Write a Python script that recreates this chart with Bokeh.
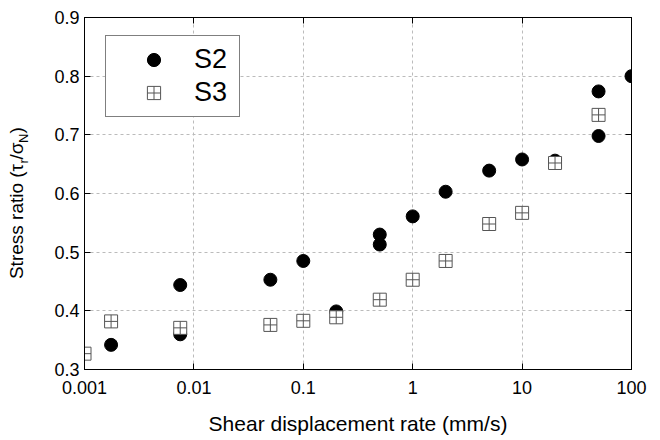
import math
from bokeh.plotting import figure
from bokeh.layouts import row
from bokeh.models import (Range1d, FixedTicker, LogAxis, LinearAxis,
                          Legend, LegendItem)
from bokeh.core.properties import value
from bokeh.embed import file_html
from bokeh.resources import INLINE

# ---- data ----
s2_rate = [0.00175, 0.0075, 0.0075, 0.05, 0.1, 0.2, 0.5, 0.5, 1, 2, 5, 10, 20, 50, 50, 100]
s2_ratio = [0.342, 0.444, 0.360, 0.453, 0.485, 0.399, 0.530, 0.513, 0.561, 0.603,
            0.639, 0.658, 0.656, 0.774, 0.698, 0.800]
s3_rate = [0.001, 0.00175, 0.0075, 0.05, 0.1, 0.2, 0.5, 1, 2, 5, 10, 20, 50]
s3_ratio = [0.327, 0.382, 0.371, 0.376, 0.383, 0.389, 0.419, 0.453, 0.485, 0.548,
            0.567, 0.652, 0.734]

x_ticks = [0.001, 0.01, 0.1, 1, 10, 100]
x_tick_labels = ["0.001", "0.01", "0.1", "1", "10", "100"]
y_ticks = [0.3, 0.4, 0.5, 0.6, 0.7, 0.8, 0.9]
y_tick_labels = ["0.3", "0.4", "0.5", "0.6", "0.7", "0.8", "0.9"]

x_label = "Shear displacement rate (mm/s)"
y_label_parts = ["Stress ratio (\u03c4", "r", "/\u03c3", "N", ")"]
series_names = ["S2", "S3"]

FONT = "Liberation Sans"
LAB_W = 30
H = 440

p = figure(width=660 - LAB_W, height=H, x_axis_type="log",
           x_range=Range1d(0.001, 100), y_range=Range1d(0.3, 0.9),
           output_backend="svg", toolbar_location=None,
           min_border_left=84 - LAB_W, min_border_right=29,
           min_border_top=17, min_border_bottom=71)
p.background_fill_color = "white"
p.border_fill_color = "white"
p.outline_line_color = "black"
p.outline_line_width = 1

# axes
for ax, ticks, labels in ((p.xaxis[0], x_ticks, x_tick_labels),
                          (p.yaxis[0], y_ticks, y_tick_labels)):
    ax.ticker = FixedTicker(ticks=ticks)
    ax.major_label_overrides = {t: l for t, l in zip(ticks, labels)}
    ax.major_tick_in = 6
    ax.major_tick_out = 0
    ax.minor_tick_line_color = None
    ax.axis_line_color = "black"
    ax.major_tick_line_color = "black"
    ax.major_label_text_font = FONT
    ax.major_label_text_font_size = "18px"
    ax.major_label_text_color = "black"

p.xaxis.major_label_standoff = 11
p.yaxis.major_label_standoff = 5
p.xaxis.axis_label = x_label
p.xaxis.axis_label_text_font = FONT
p.xaxis.axis_label_text_font_size = "21px"
p.xaxis.axis_label_text_font_style = "normal"
p.xaxis.axis_label_text_color = "black"
p.xaxis.axis_label_standoff = 15

top = LogAxis(ticker=FixedTicker(ticks=x_ticks), major_label_text_font_size="2px",
              major_label_text_alpha=0, major_label_overrides={t: "" for t in x_ticks},
              major_tick_in=6, major_tick_out=0, minor_tick_line_color=None,
              major_label_standoff=0, axis_line_color="black")
right = LinearAxis(ticker=FixedTicker(ticks=y_ticks), major_label_text_font_size="2px",
                   major_label_text_alpha=0, major_label_overrides={t: "" for t in y_ticks},
                   major_tick_in=6, major_tick_out=0, minor_tick_line_color=None,
                   major_label_standoff=0, axis_line_color="black")
p.add_layout(top, "above")
p.add_layout(right, "right")

# grid
for g in (p.xgrid[0], p.ygrid[0]):
    g.grid_line_color = "#bbbbbb"
    g.grid_line_dash = "3 3"
    g.grid_line_width = 1
p.xgrid.ticker = FixedTicker(ticks=x_ticks)
p.ygrid.ticker = FixedTicker(ticks=y_ticks)

# data
r2 = p.scatter(s2_rate, s2_ratio, marker="circle", size=13,
               fill_color="black", line_color="black")
r3 = p.scatter(s3_rate, s3_ratio, marker="square_cross", size=13,
               fill_color="white", line_color="#555555", line_width=1)

legend = Legend(items=[LegendItem(label=series_names[0], renderers=[r2]),
                       LegendItem(label=series_names[1], renderers=[r3])],
                location=(21, 252), margin=0, padding=7, spacing=0,
                glyph_width=81, glyph_height=33, label_height=33, label_width=38,
                label_standoff=0, label_text_font=FONT,
                label_text_font_size="27px", label_text_color="black",
                border_line_color="black", border_line_width=1.5,
                background_fill_color="white", background_fill_alpha=1)
p.add_layout(legend)

# ---- y axis label (with subscripts) drawn in a narrow side figure ----
lab = figure(frame_width=LAB_W, frame_height=H,
             x_range=Range1d(0, LAB_W), y_range=Range1d(0, H),
             output_backend="svg", toolbar_location=None, min_border=0,
             min_border_left=0, min_border_right=0, min_border_top=0, min_border_bottom=0,
             x_axis_location=None, y_axis_location=None, title=None)
lab.grid.visible = False
lab.outline_line_color = None
lab.background_fill_color = "white"
lab.border_fill_color = "white"

F_MAIN, F_SUB = 19, 13
widths = [(667+278+333+556+500+500+278+333+556+278+222+556+278+333+440) / 1000 * F_MAIN,
          333 / 1000 * F_SUB,
          (278+570) / 1000 * F_MAIN,
          722 / 1000 * F_SUB,
          333 / 1000 * F_MAIN]
subs = [False, True, False, True, False]
base_x = 23.0            # baseline of the main text, px from left
start_y = H - 262.0      # start of the label, px from bottom
pos = start_y
cx_main, cy_main, t_main, cx_sub, cy_sub, t_sub = [], [], [], [], [], []
for txt, w, sub in zip(y_label_parts, widths, subs):
    if sub:
        cx_sub.append(base_x + 5 - 0.35 * F_SUB); cy_sub.append(pos + w / 2); t_sub.append(txt)
    else:
        cx_main.append(base_x - 0.35 * F_MAIN); cy_main.append(pos + w / 2); t_main.append(txt)
    pos += w
lab.text(cx_main, cy_main, text=t_main, angle=math.pi / 2, text_align="center",
         text_baseline="middle", text_font=value(FONT),
         text_font_size=value(f"{F_MAIN}px"), text_color="black")
lab.text(cx_sub, cy_sub, text=t_sub, angle=math.pi / 2, text_align="center",
         text_baseline="middle", text_font=value(FONT),
         text_font_size=value(f"{F_SUB}px"), text_color="black")

layout = row(lab, p, spacing=0)
open("out.html", "w").write(file_html(layout, INLINE))
